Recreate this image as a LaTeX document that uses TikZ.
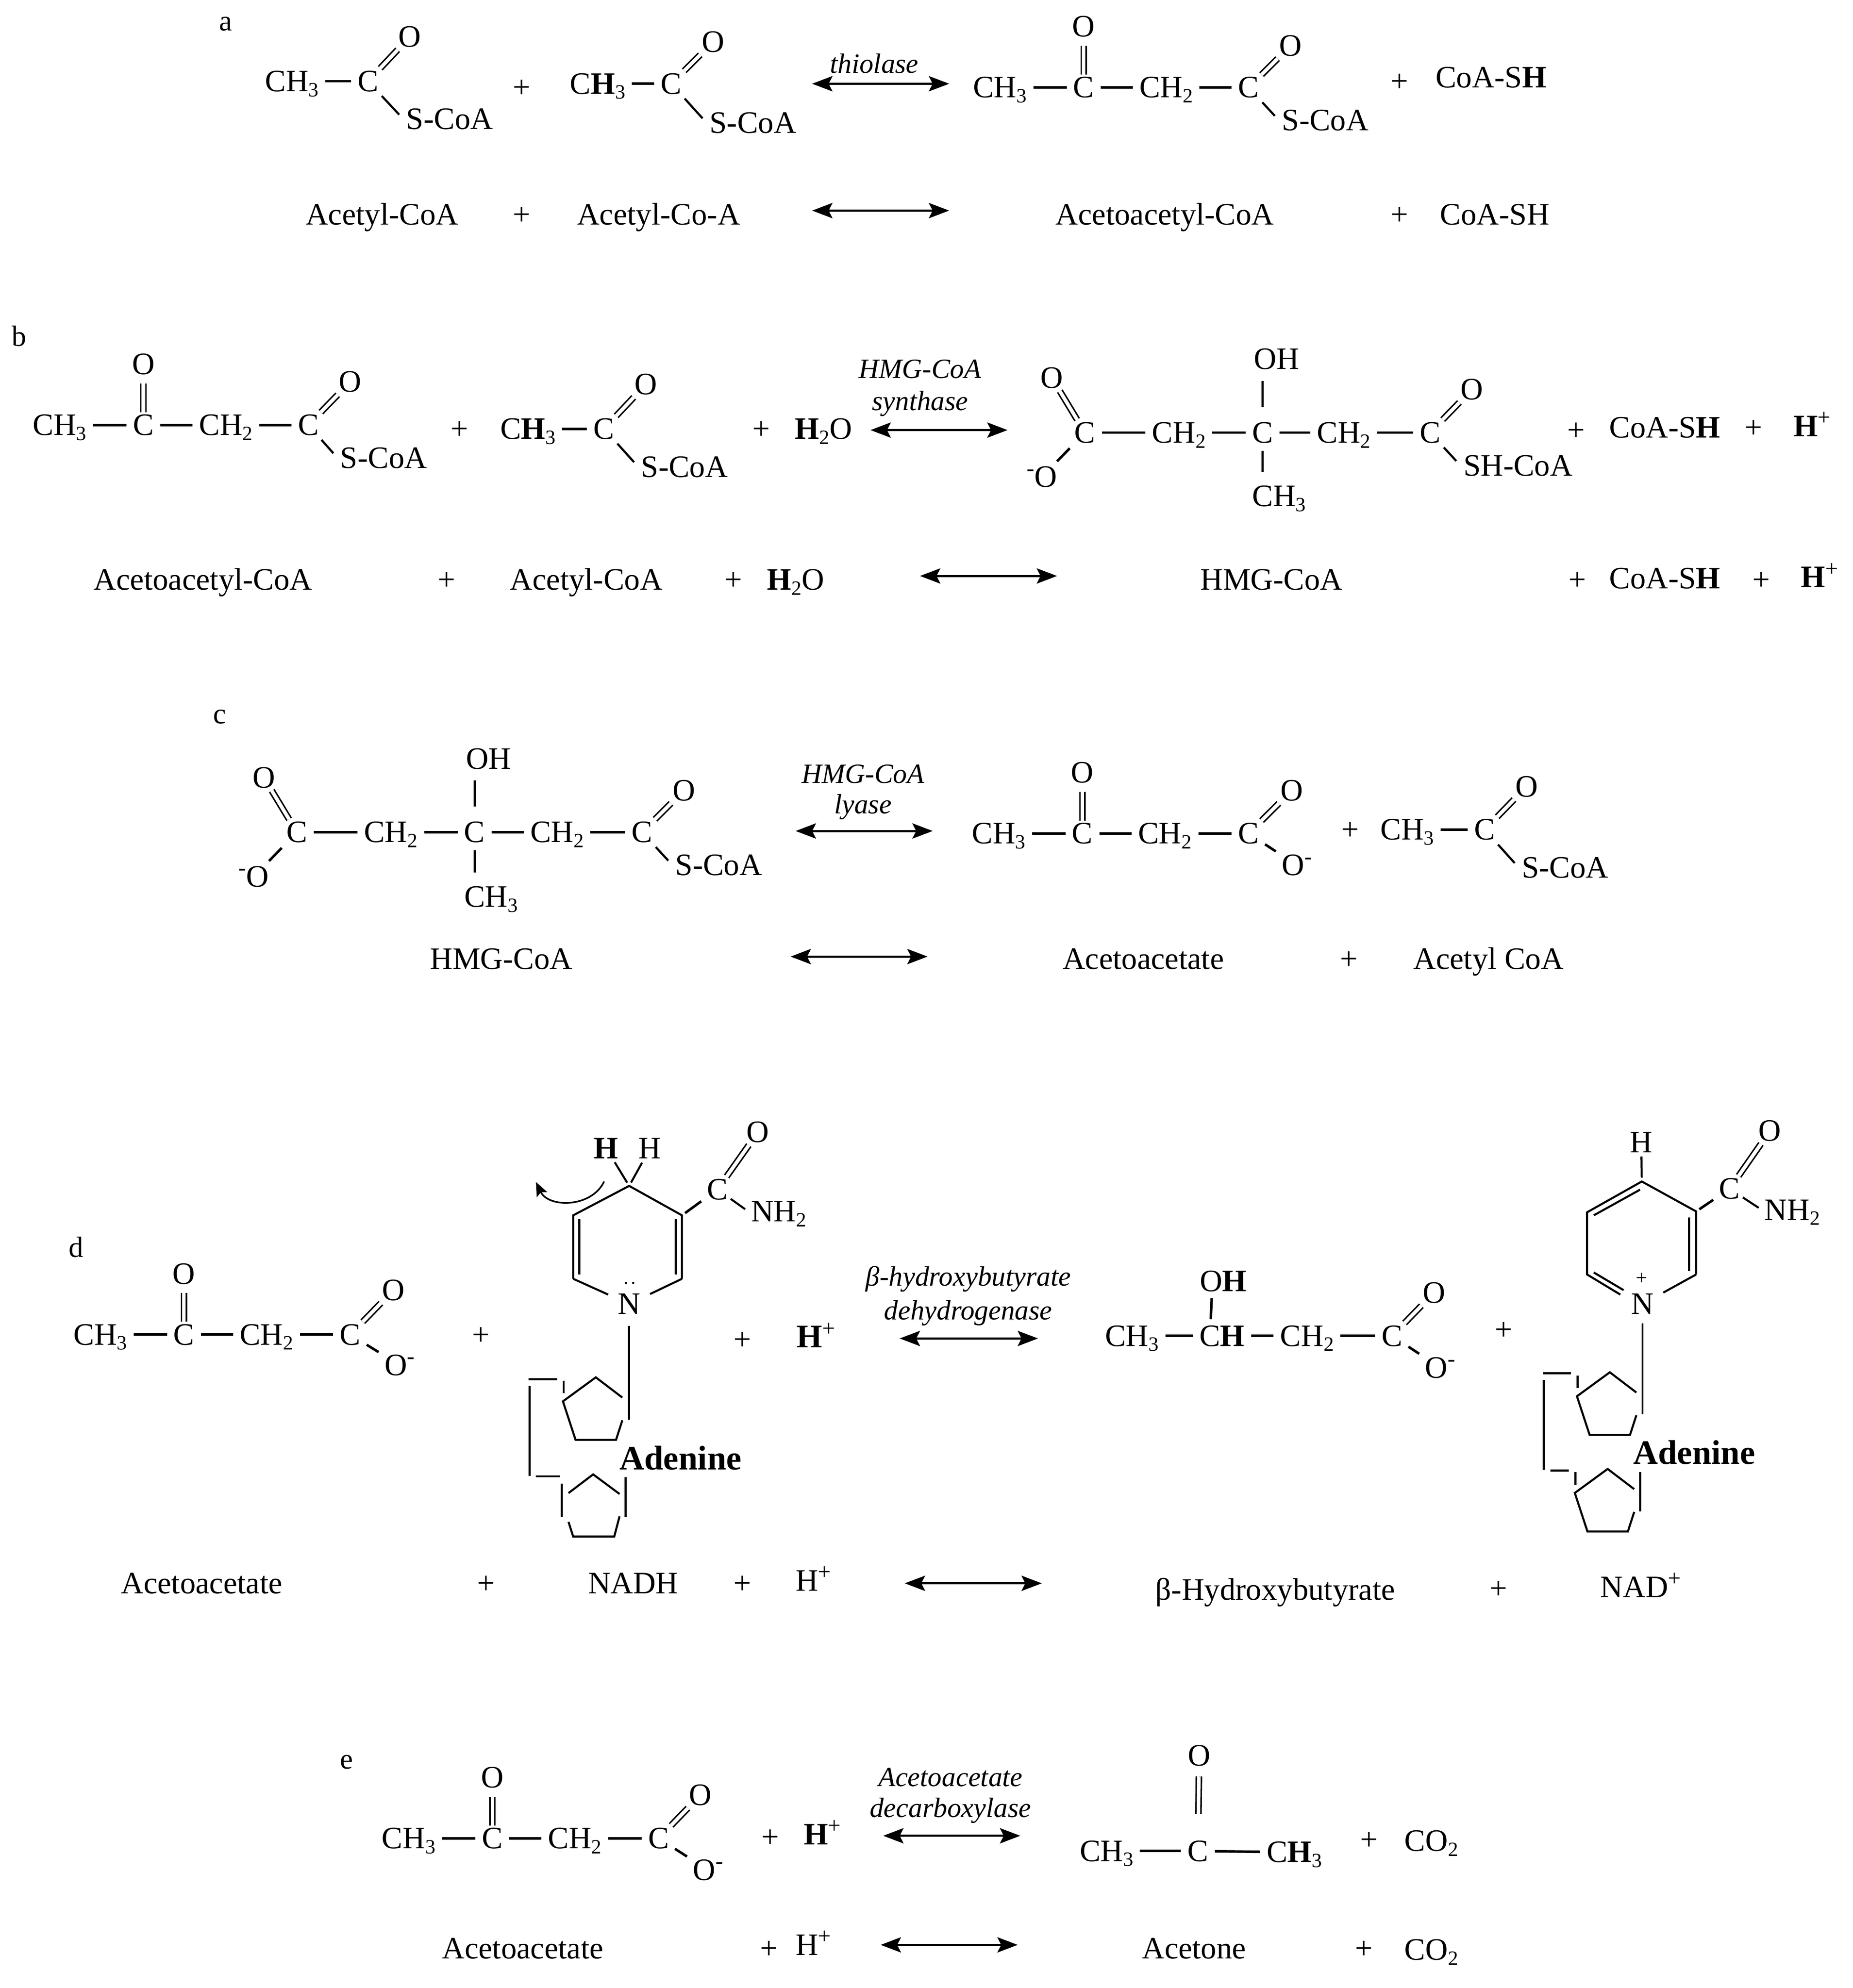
\documentclass[tikz,border=0pt]{standalone}
\usepackage{fontspec}
\setmainfont{Liberation Serif}
\usepackage{xcolor}
\usetikzlibrary{positioning,arrows.meta}

\newcommand{\chemsub}[1]{\raisebox{-4pt}{\fontsize{16}{16}\selectfont #1}}
\newcommand{\chemsup}[1]{\raisebox{9pt}{\fontsize{18}{18}\selectfont #1}}
\newcommand{\methyl}{CH\chemsub{3}}
\newcommand{\methylb}{C\textbf{H}\chemsub{3}}
\newcommand{\methylene}{CH\chemsub{2}}
\newcommand{\oxyminus}{O\chemsup{-}}
\newcommand{\minusoxy}{\chemsup{-}O}
\newcommand{\protonb}{\textbf{H}\chemsup{+}}
% one sugar ring, open on its right side
\newcommand{\sugar}[2]{
    \begin{scope}[shift={(#1,#2)}]
        \draw[ring] (21,16) -- (0,0) -- (-26,19) -- (-16,49.5) -- (16,49.5) -- (21,34);
        \draw[ring] (-25.4,2.6) -- (-25.4,12.6);
    \end{scope}
}

\tikzset{atom/.style={
    inner sep=2pt,
    text height=16pt,
    text depth=0pt,
    font=\fontsize{24.6}{28}\selectfont,
}}
\tikzset{enzyme/.style={
    inner sep=0pt,
    font=\fontsize{22}{26}\selectfont\itshape,
}}
\tikzset{panel/.style={
    inner sep=0pt,
    font=\fontsize{23}{28}\selectfont,
}}
\tikzset{adenine/.style={
    inner sep=0pt,
    font=\fontsize{27}{32}\selectfont\bfseries,
}}
\tikzset{bond/.style={
    line width=2pt,
    shorten <=3pt,
    shorten >=3pt,
}}
\tikzset{sbond/.style={
    line width=1.7pt,
    shorten <=2pt,
    shorten >=5pt,
}}
\tikzset{upbond/.style={
    line width=1.7pt,
    shorten <=10pt,
    shorten >=7pt,
}}
\tikzset{downbond/.style={
    line width=1.7pt,
    shorten <=4pt,
    shorten >=9pt,
}}
\tikzset{dblbond/.style={
    double,
    double distance=2.8pt,
    line width=1.2pt,
}}
\tikzset{dblup/.style={
    double,
    double distance=2.8pt,
    line width=1.2pt,
    shorten >=5pt,
}}
\tikzset{ring/.style={
    line width=1.6pt,
}}
\tikzset{hbond/.style={
    line width=1.6pt,
    shorten <=1pt,
    shorten >=3pt,
}}
\tikzset{arrow/.style={
    <->,>={Stealth[length=16pt,width=12pt,inset=3pt]},
    line width=1.7pt,
}}
\tikzset{curly/.style={
    ->,>={Stealth[length=11pt,width=9pt,inset=2pt]},
    line width=1.3pt,
}}

\begin{document}
\begin{tikzpicture}[x=1pt,y=-1pt]
    \useasboundingbox (0,0) rectangle (1460,1567);

    % panel a
    \node[panel] (a-label) at (178,19) {a};
    \node[atom] (a1-me) at (230,64) {\methyl};
    \node[atom] (a1-c) at (290,64) {C};
    \node[atom] (a1-o) at (323,29) {O};
    \node[atom,anchor=west] (a1-s) at (318,94) {S-CoA};
    \draw[bond] (a1-me) -- (a1-c);
    \draw[dblbond] (a1-c) -- (a1-o);
    \draw[sbond] (a1-c) -- (a1-s.west);
    \node[atom] (a-p1) at (411,69) {+};
    \node[atom] (a2-me) at (471,66) {\methylb};
    \node[atom] (a2-c) at (529,66) {C};
    \node[atom] (a2-o) at (562,33) {O};
    \node[atom,anchor=west] (a2-s) at (557,97) {S-CoA};
    \draw[bond] (a2-me) -- (a2-c);
    \draw[dblbond] (a2-c) -- (a2-o);
    \draw[sbond] (a2-c) -- (a2-s.west);
    \node[enzyme] (a-enz) at (689,50) {thiolase};
    \coordinate (a-l1) at (640,66);
    \coordinate (a-r1) at (748,66);
    \draw[arrow] (a-l1) -- (a-r1);
    \node[atom] (a3-me) at (788,69) {\methyl};
    \node[atom] (a3-c1) at (854,69) {C};
    \node[atom] (a3-o1) at (854,21) {O};
    \node[atom] (a3-ch2) at (919,69) {\methylene};
    \node[atom] (a3-c2) at (984,69) {C};
    \node[atom] (a3-o2) at (1017,36) {O};
    \node[atom,anchor=west] (a3-s) at (1008,95) {S-CoA};
    \draw[bond] (a3-me) -- (a3-c1);
    \draw[dblup] (a3-c1) -- (a3-o1);
    \draw[bond] (a3-c1) -- (a3-ch2);
    \draw[bond] (a3-ch2) -- (a3-c2);
    \draw[dblbond] (a3-c2) -- (a3-o2);
    \draw[sbond] (a3-c2) -- (a3-s.west);
    \node[atom] (a-p2) at (1103,64) {+};
    \node[atom] (a-coa) at (1175,61) {CoA-S\textbf{H}};
    \node[atom] (a-n1) at (301,169) {Acetyl-CoA};
    \node[atom] (a-p3) at (411,169) {+};
    \node[atom] (a-n2) at (519,169) {Acetyl-Co-A};
    \coordinate (a-l2) at (640,166);
    \coordinate (a-r2) at (748,166);
    \draw[arrow] (a-l2) -- (a-r2);
    \node[atom] (a-n3) at (918,169) {Acetoacetyl-CoA};
    \node[atom] (a-p4) at (1103,169) {+};
    \node[atom] (a-n4) at (1178,169) {CoA-SH};

    % panel b
    \node[panel] (b-label) at (15,265) {b};
    \node[atom] (b1-me) at (47,335) {\methyl};
    \node[atom] (b1-c1) at (113,335) {C};
    \node[atom] (b1-o1) at (113,287) {O};
    \node[atom] (b1-ch2) at (178,335) {\methylene};
    \node[atom] (b1-c2) at (243,335) {C};
    \node[atom] (b1-o2) at (276,301) {O};
    \node[atom,anchor=west] (b1-s) at (266,361) {S-CoA};
    \draw[bond] (b1-me) -- (b1-c1);
    \draw[dblup] (b1-c1) -- (b1-o1);
    \draw[bond] (b1-c1) -- (b1-ch2);
    \draw[bond] (b1-ch2) -- (b1-c2);
    \draw[dblbond] (b1-c2) -- (b1-o2);
    \draw[sbond] (b1-c2) -- (b1-s.west);
    \node[atom] (b-p1) at (362,338) {+};
    \node[atom] (b2-me) at (416,338) {\methylb};
    \node[atom] (b2-c) at (476,338) {C};
    \node[atom] (b2-o) at (509,303) {O};
    \node[atom,anchor=west] (b2-s) at (503,368) {S-CoA};
    \draw[bond] (b2-me) -- (b2-c);
    \draw[dblbond] (b2-c) -- (b2-o);
    \draw[sbond] (b2-c) -- (b2-s.west);
    \node[atom] (b-p2) at (600,338) {+};
    \node[atom] (b-w1) at (649,338) {\textbf{H}\chemsub{2}O};
    \node[enzyme] (b-enz1) at (725,291) {HMG-CoA};
    \node[enzyme] (b-enz2) at (725,318) {synthase};
    \coordinate (b-l1) at (686,339);
    \coordinate (b-r1) at (794,339);
    \draw[arrow] (b-l1) -- (b-r1);
    \node[atom] (b3-o1) at (829,298) {O};
    \node[atom] (b3-c1) at (855,341) {C};
    \node[atom] (b3-o2) at (821,376) {\minusoxy};
    \node[atom] (b3-ch1) at (929,341) {\methylene};
    \node[atom] (b3-c2) at (995,341) {C};
    \node[atom] (b3-oh) at (1006,283) {OH};
    \node[atom] (b3-me) at (1008,391) {\methyl};
    \node[atom] (b3-ch2) at (1059,341) {\methylene};
    \node[atom] (b3-c3) at (1127,341) {C};
    \node[atom] (b3-o3) at (1160,307) {O};
    \node[atom,anchor=west] (b3-s) at (1151,367) {SH-CoA};
    \draw[dblbond] (b3-c1) -- (b3-o1);
    \draw[bond] (b3-c1) -- (b3-o2);
    \draw[bond] (b3-c1) -- (b3-ch1);
    \draw[bond] (b3-ch1) -- (b3-c2);
    \draw[upbond] (b3-c2.north) -- (b3-c2.north |- b3-oh.south);
    \draw[downbond] (b3-c2.south) -- (b3-c2.south |- b3-me.north);
    \draw[bond] (b3-c2) -- (b3-ch2);
    \draw[bond] (b3-ch2) -- (b3-c3);
    \draw[dblbond] (b3-c3) -- (b3-o3);
    \draw[sbond] (b3-c3) -- (b3-s.west);
    \node[atom] (b-p3) at (1242,339) {+};
    \node[atom] (b-coa1) at (1312,337) {CoA-S\textbf{H}};
    \node[atom] (b-p4) at (1382,337) {+};
    \node[atom] (b-h1) at (1428,336) {\protonb};
    \node[atom] (b-n1) at (160,457) {Acetoacetyl-CoA};
    \node[atom] (b-p5) at (352,457) {+};
    \node[atom] (b-n2) at (462,457) {Acetyl-CoA};
    \node[atom] (b-p6) at (578,457) {+};
    \node[atom] (b-w2) at (627,457) {\textbf{H}\chemsub{2}O};
    \coordinate (b-l2) at (725,454);
    \coordinate (b-r2) at (833,454);
    \draw[arrow] (b-l2) -- (b-r2);
    \node[atom] (b-n3) at (1002,457) {HMG-CoA};
    \node[atom] (b-p7) at (1243,457) {+};
    \node[atom] (b-coa2) at (1312,456) {CoA-S\textbf{H}};
    \node[atom] (b-p8) at (1388,457) {+};
    \node[atom] (b-h2) at (1434,455) {\protonb};

    % panel c
    \node[panel] (c-label) at (173,565) {c};
    \node[atom] (c1-o1) at (208,613) {O};
    \node[atom] (c1-c1) at (234,656) {C};
    \node[atom] (c1-o2) at (200,691) {\minusoxy};
    \node[atom] (c1-ch1) at (308,656) {\methylene};
    \node[atom] (c1-c2) at (374,656) {C};
    \node[atom] (c1-oh) at (385,598) {OH};
    \node[atom] (c1-me) at (387,707) {\methyl};
    \node[atom] (c1-ch2) at (439,656) {\methylene};
    \node[atom] (c1-c3) at (506,656) {C};
    \node[atom] (c1-o3) at (539,623) {O};
    \node[atom,anchor=west] (c1-s) at (530,682) {S-CoA};
    \draw[dblbond] (c1-c1) -- (c1-o1);
    \draw[bond] (c1-c1) -- (c1-o2);
    \draw[bond] (c1-c1) -- (c1-ch1);
    \draw[bond] (c1-ch1) -- (c1-c2);
    \draw[upbond] (c1-c2.north) -- (c1-c2.north |- c1-oh.south);
    \draw[downbond] (c1-c2.south) -- (c1-c2.south |- c1-me.north);
    \draw[bond] (c1-c2) -- (c1-ch2);
    \draw[bond] (c1-ch2) -- (c1-c3);
    \draw[dblbond] (c1-c3) -- (c1-o3);
    \draw[sbond] (c1-c3) -- (c1-s.west);
    \node[enzyme] (c-enz1) at (680,610) {HMG-CoA};
    \node[enzyme] (c-enz2) at (680,636) {lyase};
    \coordinate (c-l1) at (627,655);
    \coordinate (c-r1) at (735,655);
    \draw[arrow] (c-l1) -- (c-r1);
    \node[atom] (c2-me) at (787,657) {\methyl};
    \node[atom] (c2-c1) at (853,657) {C};
    \node[atom] (c2-o1) at (853,609) {O};
    \node[atom] (c2-ch2) at (918,657) {\methylene};
    \node[atom] (c2-c2) at (984,657) {C};
    \node[atom] (c2-o2) at (1018,623) {O};
    \node[atom] (c2-o3) at (1022,682) {\oxyminus};
    \draw[bond] (c2-me) -- (c2-c1);
    \draw[dblup] (c2-c1) -- (c2-o1);
    \draw[bond] (c2-c1) -- (c2-ch2);
    \draw[bond] (c2-ch2) -- (c2-c2);
    \draw[dblbond] (c2-c2) -- (c2-o2);
    \draw[bond] (c2-c2) -- (c2-o3);
    \node[atom] (c-p1) at (1064,654) {+};
    \node[atom] (c3-me) at (1109,654) {\methyl};
    \node[atom] (c3-c) at (1170,654) {C};
    \node[atom] (c3-o) at (1203,620) {O};
    \node[atom,anchor=west] (c3-s) at (1197,684) {S-CoA};
    \draw[bond] (c3-me) -- (c3-c);
    \draw[dblbond] (c3-c) -- (c3-o);
    \draw[sbond] (c3-c) -- (c3-s.west);
    \node[atom] (c-n1) at (395,756) {HMG-CoA};
    \coordinate (c-l2) at (623,754);
    \coordinate (c-r2) at (731,754);
    \draw[arrow] (c-l2) -- (c-r2);
    \node[atom] (c-n2) at (901,756) {Acetoacetate};
    \node[atom] (c-p2) at (1063,756) {+};
    \node[atom] (c-n3) at (1173,756) {Acetyl CoA};

    % panel d
    \node[panel] (d-label) at (60,983) {d};
    \node[atom] (d1-me) at (79,1052) {\methyl};
    \node[atom] (d1-c1) at (145,1052) {C};
    \node[atom] (d1-o1) at (145,1004) {O};
    \node[atom] (d1-ch2) at (210,1052) {\methylene};
    \node[atom] (d1-c2) at (276,1052) {C};
    \node[atom] (d1-o2) at (310,1017) {O};
    \node[atom] (d1-o3) at (315,1076) {\oxyminus};
    \draw[bond] (d1-me) -- (d1-c1);
    \draw[dblup] (d1-c1) -- (d1-o1);
    \draw[bond] (d1-c1) -- (d1-ch2);
    \draw[bond] (d1-ch2) -- (d1-c2);
    \draw[dblbond] (d1-c2) -- (d1-o2);
    \draw[bond] (d1-c2) -- (d1-o3);
    \node[atom] (d-p1) at (379,1052) {+};

    % NADH
    \begin{scope}[x=.996pt,y=-.996pt]
        \coordinate (n-top) at (497.8,938.5);
        \coordinate (n-ul) at (453.5,961.8);
        \coordinate (n-ll) at (453.5,1012);
        \coordinate (n-lr) at (539.6,1012);
        \coordinate (n-ur) at (539.6,961.8);
        \coordinate (n-foot) at (497.8,1123.5);
        \coordinate (n-arc1) at (478,935);
        \coordinate (n-arc2) at (424,935.4);
        \node[atom] (n-n) at (497.8,1032) {N};
        \node[atom] (n-hb) at (479.6,908.7) {\textbf{H}};
        \node[atom] (n-h) at (514.2,909) {H};
        \node[atom] (n-c) at (567.7,941.3) {C};
        \node[atom] (n-o) at (599.7,896) {O};
        \node[atom,anchor=west] (n-nh) at (592,958.7) {NH\chemsub{2}};
        \node[adenine] (n-ade) at (538.5,1153.7) {Adenine};
        \fill (495.2,1015.3) circle (.9pt) (501,1015.3) circle (.9pt);
        \draw[ring] (n-ll) -- (n-ul) -- (n-top) -- (n-ur) -- (n-lr);
        \draw[ring,shorten >=6pt] (n-ll) -- (n-n);
        \draw[ring,shorten >=6pt] (n-lr) -- (n-n);
        \draw[ring] (458.4,965) -- (458.4,1008.6);
        \draw[ring] (534.6,965) -- (534.6,1008.6);
        \draw[hbond] (n-hb) -- (n-top);
        \draw[hbond] (n-h) -- (n-top);
        \draw[bond] (n-ur) -- (n-c);
        \draw[dblbond] (n-c) -- (n-o);
        \draw[ring,shorten >=3pt] (n-c) -- (n-nh.west);
        \draw[ring,shorten <=7pt] (n-n) -- (n-foot);
        \draw[curly] (n-arc1) .. controls (468,956) and (434,956) .. (n-arc2);
        \sugar{471.4}{1090}
        \draw[ring] (418,1091.4) -- (441,1091.4);
        \draw[ring] (419,1096.7) -- (419,1168);
        \draw[ring] (423.8,1168.3) -- (442.9,1168.3);
        \draw[ring] (444.4,1174) -- (444.4,1200.6);
        \draw[ring] (449.8,1181.6) -- (469.3,1166.8) -- (490.2,1182.3);
        \draw[ring] (495,1169) -- (495,1200.6);
        \draw[ring] (449.8,1204.4) -- (453.5,1216) -- (486,1216) -- (490.2,1200);
    \end{scope}

    \node[atom] (d-p2) at (585,1056) {+};
    \node[atom,font=\fontsize{26}{30}\selectfont] (d-h1) at (643,1054) {\protonb};
    \node[enzyme] (d-enz1) at (763,1008) {β-hydroxybutyrate};
    \node[enzyme] (d-enz2) at (763,1035) {dehydrogenase};
    \coordinate (d-l1) at (709,1055);
    \coordinate (d-r1) at (818,1055);
    \draw[arrow] (d-l1) -- (d-r1);
    \node[atom] (d2-oh) at (964,1010) {O\textbf{H}};
    \node[atom] (d2-me) at (892,1053) {\methyl};
    \node[atom] (d2-ch) at (963,1053) {C\textbf{H}};
    \node[atom] (d2-ch2) at (1030,1053) {\methylene};
    \node[atom] (d2-c) at (1097,1053) {C};
    \node[atom] (d2-o1) at (1130,1019) {O};
    \node[atom] (d2-o2) at (1135,1078) {\oxyminus};
    \draw[bond] (d2-me) -- (d2-ch);
    \draw[bond] ([xshift=-9pt]d2-ch.north) -- ([xshift=-9pt]d2-oh.south);
    \draw[bond] (d2-ch) -- (d2-ch2);
    \draw[bond] (d2-ch2) -- (d2-c);
    \draw[dblbond] (d2-c) -- (d2-o1);
    \draw[bond] (d2-c) -- (d2-o2);

    % NAD+
    \begin{scope}[x=.996pt,y=-.996pt]
        \coordinate (m-top) at (1299,935);
        \coordinate (m-ul) at (1255.7,959.4);
        \coordinate (m-ll) at (1255.7,1008.6);
        \coordinate (m-ln) at (1282,1024.5);
        \coordinate (m-lr) at (1342,1008.6);
        \coordinate (m-ur) at (1342,958.7);
        \coordinate (m-foot) at (1299.6,1119);
        \node[atom] (m-n) at (1299.6,1032) {N};
        \node[inner sep=0pt,font=\fontsize{16}{16}\selectfont] (m-plus) at (1299,1012) {+};
        \node[atom] (m-h) at (1298.6,904) {H};
        \node[atom] (m-c) at (1368.5,940.8) {C};
        \node[atom] (m-o) at (1400.4,895) {O};
        \node[atom,anchor=west] (m-nh) at (1394,957.5) {NH\chemsub{2}};
        \node[adenine] (m-ade) at (1340.5,1149.5) {Adenine};
        \draw[ring] (m-ln) -- (m-ll) -- (m-ul) -- (m-top) -- (m-ur) -- (m-lr);
        \draw[ring,shorten >=6pt] (m-lr) -- (m-n);
        \draw[ring] (1261,961.8) -- (1297.6,941.5);
        \draw[ring] (1261,1007) -- (1284.6,1021);
        \draw[ring] (1336.5,963.4) -- (1336.5,1006);
        \draw[hbond] (m-h) -- (m-top);
        \draw[bond] (m-ur) -- (m-c);
        \draw[dblbond] (m-c) -- (m-o);
        \draw[ring,shorten >=3pt] (m-c) -- (m-nh.west);
        \draw[ring,shorten <=5pt] (m-n) -- (m-foot);
        \sugar{1273.7}{1086}
        \sugar{1272}{1162.5}
        \draw[ring] (1220.8,1086.7) -- (1243,1086.7);
        \draw[ring] (1221.4,1092) -- (1221.4,1163.3);
        \draw[ring] (1226.8,1163.7) -- (1241.3,1163.7);
        \draw[ring] (1297.6,1165) -- (1297.6,1196);
    \end{scope}

    \node[atom] (d-p3) at (1185,1048) {+};
    \node[atom] (d-n1) at (159,1248) {Acetoacetate};
    \node[atom] (d-p4) at (383,1248) {+};
    \node[atom] (d-n2) at (499,1248) {NADH};
    \node[atom] (d-p5) at (585,1248) {+};
    \node[atom] (d-h2) at (641,1246) {H\chemsup{+}};
    \coordinate (d-l2) at (713,1248);
    \coordinate (d-r2) at (821,1248);
    \draw[arrow] (d-l2) -- (d-r2);
    \node[atom] (d-n3) at (1005,1253) {β-Hydroxybutyrate};
    \node[atom] (d-p6) at (1181,1252) {+};
    \node[atom] (d-n4) at (1293,1251) {NAD\chemsup{+}};

    % panel e
    \node[panel] (e-label) at (273,1389) {e};
    \node[atom] (e1-me) at (322,1449) {\methyl};
    \node[atom] (e1-c1) at (388,1449) {C};
    \node[atom] (e1-o1) at (388,1401) {O};
    \node[atom] (e1-ch2) at (453,1449) {\methylene};
    \node[atom] (e1-c2) at (519,1449) {C};
    \node[atom] (e1-o2) at (552,1415) {O};
    \node[atom] (e1-o3) at (558,1474) {\oxyminus};
    \draw[bond] (e1-me) -- (e1-c1);
    \draw[dblup] (e1-c1) -- (e1-o1);
    \draw[bond] (e1-c1) -- (e1-ch2);
    \draw[bond] (e1-ch2) -- (e1-c2);
    \draw[dblbond] (e1-c2) -- (e1-o2);
    \draw[bond] (e1-c2) -- (e1-o3);
    \node[atom] (e-p1) at (607,1448) {+};
    \node[atom] (e-h1) at (648,1446) {\protonb};
    \node[enzyme] (e-enz1) at (749,1401) {Acetoacetate};
    \node[enzyme] (e-enz2) at (749,1427) {decarboxylase};
    \coordinate (e-l1) at (696,1447);
    \coordinate (e-r1) at (804,1447);
    \draw[arrow] (e-l1) -- (e-r1);
    \node[atom] (e2-o) at (945,1384) {O};
    \node[atom] (e2-c) at (944,1459) {C};
    \node[atom] (e2-me1) at (872,1459) {\methyl};
    \node[atom] (e2-me2) at (1020,1460) {\methylb};
    \draw[dblup,shorten <=19pt,shorten >=6pt] (e2-c) -- (e2-o);
    \draw[bond] (e2-me1) -- (e2-c);
    \draw[bond] (e2-c) -- (e2-me2);
    \node[atom] (e-p2) at (1079,1450) {+};
    \node[atom] (e-co1) at (1128,1451) {CO\chemsub{2}};
    \node[atom] (e-n1) at (412,1536) {Acetoacetate};
    \node[atom] (e-p3) at (606,1536) {+};
    \node[atom] (e-h2) at (641,1533) {H\chemsup{+}};
    \coordinate (e-l2) at (694,1533);
    \coordinate (e-r2) at (802,1533);
    \draw[arrow] (e-l2) -- (e-r2);
    \node[atom] (e-n2) at (941,1536) {Acetone};
    \node[atom] (e-p4) at (1075,1536) {+};
    \node[atom] (e-co2) at (1128,1537) {CO\chemsub{2}};
\end{tikzpicture}
\end{document}
